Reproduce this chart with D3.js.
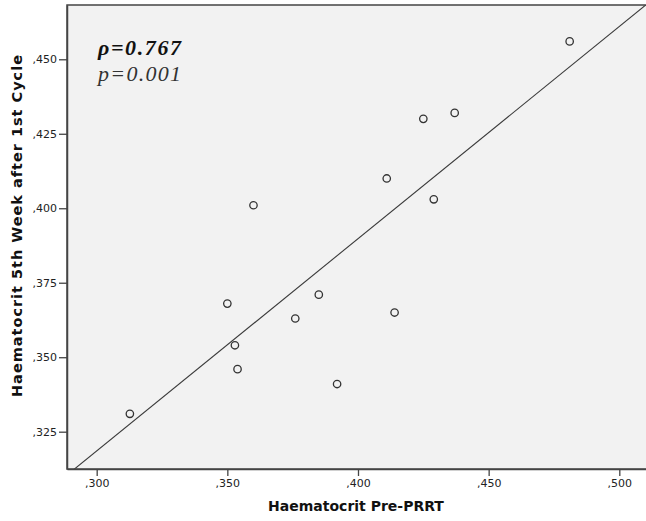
<!DOCTYPE html>
<html>
<head>
<meta charset="utf-8">
<script src="https://cdn.jsdelivr.net/npm/d3@7"></script>
<style>
  html, body { margin: 0; padding: 0; background: #fff; }
  svg { display: block; }
</style>
</head>
<body>
<svg id="chart" width="646" height="521"></svg>
<script>
// Data
const preHct  = [0.3127, 0.350, 0.3529, 0.3539, 0.360, 0.376, 0.385, 0.392, 0.411, 0.414, 0.425, 0.429, 0.437, 0.481];
const postHct = [0.331, 0.368, 0.354, 0.346, 0.401, 0.363, 0.371, 0.341, 0.410, 0.365, 0.430, 0.403, 0.432, 0.456];
const xTicks = [0.300, 0.350, 0.400, 0.450, 0.500];
const yTicks = [0.325, 0.350, 0.375, 0.400, 0.425, 0.450];
const xTitle = "Haematocrit Pre-PRRT";
const yTitle = "Haematocrit 5th Week after 1st Cycle";
const rhoText = "ρ=0.767";
const pText = "p=0.001";

(function () {
const svg = d3.select("#chart");
const pL = 67, pR = 648, pT = 5, pB = 469;

const x = d3.scaleLinear().domain([0.28864, 0.51098]).range([pL, pR]);
const y = d3.scaleLinear().domain([0.31248, 0.46822]).range([pB, pT]);

const fmt = v => "," + d3.format(".3f")(v).split(".")[1];

// plot background
svg.append("rect").attr("x", pL).attr("y", pT)
  .attr("width", pR - pL).attr("height", pB - pT)
  .attr("fill", "#f2f2f2");

svg.append("clipPath").attr("id", "clip").append("rect")
  .attr("x", pL).attr("y", pT).attr("width", pR - pL).attr("height", pB - pT);

// regression line (least squares from data)
const mx = d3.mean(preHct), my = d3.mean(postHct);
const sxy = d3.sum(preHct, (v, i) => (v - mx) * (postHct[i] - my));
const sxx = d3.sum(preHct, v => (v - mx) * (v - mx));
const slope = sxy / sxx, intercept = my - slope * mx;
const [x0, x1] = x.domain();
svg.append("line").attr("clip-path", "url(#clip)")
  .attr("x1", x(x0)).attr("y1", y(intercept + slope * x0))
  .attr("x2", x(x1)).attr("y2", y(intercept + slope * x1))
  .attr("stroke", "#3a3a3a").attr("stroke-width", 1.1);

// points
svg.append("g").selectAll("circle").data(preHct).join("circle")
  .attr("cx", d => x(d)).attr("cy", (d, i) => y(postHct[i]))
  .attr("r", 3.7).attr("fill", "none")
  .attr("stroke", "#333").attr("stroke-width", 1.3);

// frame
svg.append("rect").attr("x", pL).attr("y", pT)
  .attr("width", pR - pL).attr("height", pB - pT)
  .attr("fill", "none").attr("stroke", "#444").attr("stroke-width", 1.5);

// axes
const xAxis = d3.axisBottom(x).tickValues(xTicks).tickFormat(fmt).tickSizeInner(7).tickSizeOuter(0).tickPadding(3);
const gx = svg.append("g").attr("transform", `translate(0,${pB})`).call(xAxis);
const yAxis = d3.axisLeft(y).tickValues(yTicks).tickFormat(fmt).tickSizeInner(8).tickSizeOuter(0).tickPadding(2);
const gy = svg.append("g").attr("transform", `translate(${pL},0)`).call(yAxis);
[gx, gy].forEach(g => {
  g.select(".domain").attr("stroke", "#444").attr("stroke-width", 1.5);
  g.selectAll(".tick line").attr("stroke", "#444").attr("stroke-width", 1.3);
  g.selectAll(".tick text").attr("font-family", "DejaVu Sans, sans-serif")
    .attr("font-size", 11).attr("fill", "#222");
});

// titles
svg.append("text").attr("x", 356).attr("y", 511).attr("text-anchor", "middle")
  .attr("font-family", "DejaVu Sans, sans-serif").attr("font-weight", "bold")
  .attr("font-size", 14).attr("fill", "#111").text(xTitle);
svg.append("text").attr("transform", "translate(22,226) rotate(-90)").attr("text-anchor", "middle")
  .attr("font-family", "DejaVu Sans, sans-serif").attr("font-weight", "bold")
  .attr("font-size", 14.5).attr("fill", "#111")
  .attr("textLength", 342).attr("lengthAdjust", "spacing").text(yTitle);

// annotation
svg.append("text").attr("x", 98).attr("y", 55)
  .attr("font-family", "Liberation Serif, Times New Roman, serif")
  .attr("font-style", "italic").attr("font-weight", "bold")
  .attr("font-size", 22).attr("fill", "#111")
  .attr("textLength", 83).attr("lengthAdjust", "spacing").text(rhoText);
svg.append("text").attr("x", 98).attr("y", 81)
  .attr("font-family", "Liberation Serif, Times New Roman, serif")
  .attr("font-style", "italic")
  .attr("font-size", 22).attr("fill", "#333")
  .attr("textLength", 83).attr("lengthAdjust", "spacing").text(pText);
})();
</script>
</body>
</html>
